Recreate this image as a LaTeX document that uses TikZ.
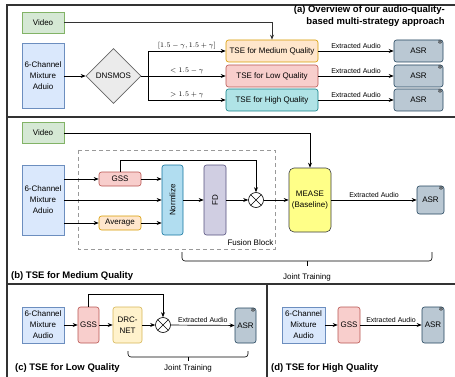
\documentclass[tikz,border=0pt]{standalone}
\usepackage{fontspec}
\setmainfont{Liberation Sans}
\newfontfamily\symfont{DejaVu Sans}
\usetikzlibrary{shapes.geometric, arrows.meta}

\definecolor{vidfill}{HTML}{D5E8D4}
\definecolor{vidline}{HTML}{82B366}
\definecolor{mixfill}{HTML}{DAE8FC}
\definecolor{mixline}{HTML}{6C8EBF}
\definecolor{dnsfill}{HTML}{EBEBEB}
\definecolor{dnsline}{HTML}{666666}
\definecolor{orfill}{HTML}{FFE6CC}
\definecolor{orline}{HTML}{D79B00}
\definecolor{redfill}{HTML}{F8CECC}
\definecolor{redline}{HTML}{B85450}
\definecolor{tealfill}{HTML}{B0E3E6}
\definecolor{tealline}{HTML}{0E8088}
\definecolor{asrfill}{HTML}{BAC8D3}
\definecolor{asrline}{HTML}{23445D}
\definecolor{nrmfill}{HTML}{B1DDF0}
\definecolor{nrmline}{HTML}{10739E}
\definecolor{fdfill}{HTML}{D0CEE2}
\definecolor{fdline}{HTML}{56517E}
\definecolor{measefill}{HTML}{FFFF88}
\definecolor{measeline}{HTML}{36393D}
\definecolor{drcfill}{HTML}{FFF2CC}
\definecolor{drcline}{HTML}{D6B656}
\definecolor{panelline}{HTML}{333333}

\tikzset{
  blk/.style={draw, line width=0.6pt, inner sep=0pt, align=center, font=\fontsize{8}{10.5}\selectfont},
  rblk/.style={blk, rounded corners=2.5pt},
  vid/.style={blk, fill=vidfill, draw=vidline, minimum width=42pt, minimum height=21pt},
  mix/.style={blk, fill=mixfill, draw=mixline, minimum width=42pt, font=\fontsize{8}{11}\selectfont},
  dns/.style={blk, diamond, aspect=1, fill=dnsfill, draw=dnsline, minimum width=55pt, minimum height=55pt},
  tse/.style={rblk, minimum width=92pt, minimum height=22pt},
  asr/.style={rblk, fill=asrfill, draw=asrline, minimum width=49pt, minimum height=22pt,
    label={[snow]north east:{\symfont\char"2744}}},
  snow/.style={anchor=north east, inner sep=0.4pt, font=\fontsize{6}{6}\selectfont, text=black!85},
  gss/.style={rblk, fill=redfill, draw=redline},
  avg/.style={rblk, fill=orfill, draw=orline, minimum width=42pt, minimum height=14pt},
  nrm/.style={rblk, fill=nrmfill, draw=nrmline, rotate=90, minimum width=70pt, minimum height=21pt},
  fdb/.style={rblk, fill=fdfill, draw=fdline, rotate=90, minimum width=70pt, minimum height=22pt},
  mease/.style={blk, rounded corners=5pt, fill=measefill, draw=measeline, minimum width=42pt, minimum height=64pt},
  drc/.style={rblk, fill=drcfill, draw=drcline, minimum width=29pt, minimum height=36pt},
  mult/.style={circle, draw, line width=0.6pt, minimum size=15pt, inner sep=0pt,
    path picture={\draw[line width=0.6pt] (path picture bounding box.north west) -- (path picture bounding box.south east)
      (path picture bounding box.north east) -- (path picture bounding box.south west);}},
  arr/.style={-{Stealth[length=5pt, width=4pt]}, line width=0.7pt},
  cond/.style={above, inner sep=1.5pt, font=\fontsize{7}{8}\selectfont},
  ext/.style={above, inner sep=2pt, font=\fontsize{7}{8}\selectfont},
  txt/.style={inner sep=0pt, font=\fontsize{8}{10}\selectfont},
  ttl/.style={inner sep=0pt, font=\fontsize{9.5}{12.5}\selectfont\bfseries},
  panel/.style={draw=panelline, line width=1.2pt},
  fusion/.style={draw=gray!80, dashed, dash pattern=on 4pt off 3pt, line width=0.6pt},
  jbrace/.style={line width=0.6pt, rounded corners=3pt},
}

\begin{document}
\begin{tikzpicture}[x=1pt, y=-1pt]
	\useasboundingbox (0,0) rectangle (455,377);
	% panel frames
	\draw[panel] (7,377) -- (7,5) -- (455,5);
	\draw[panel] (7,117) -- (455,117);
	\draw[panel] (7,284) -- (455,284);
	\draw[panel] (267,284) -- (267,377);

	% (a) overview
	\node[ttl, anchor=north east, align=right] (ttlA) at (445, 5) {(a) Overview of our audio-quality-\\based multi-strategy approach};
	\node[vid] (vidA) at (43, 22.5) {Video};
	\node[mix, minimum height=65pt] (mixA) at (43, 76) {6-Channel\\Mixture\\Aduio};
	\node[dns] (dnsmos) at (113.5, 76) {DNSMOS};
	\coordinate (split) at (148, 76);
	\node[tse, fill=orfill, draw=orline] (tseM) at (272, 51) {TSE for Medium Quality};
	\node[tse, fill=redfill, draw=redline] (tseL) at (272, 76) {TSE for Low Quality};
	\node[tse, fill=tealfill, draw=tealline] (tseH) at (272, 100) {TSE for High Quality};
	\node[asr] (asrM) at (418.5, 51) {ASR};
	\node[asr] (asrL) at (418.5, 76) {ASR};
	\node[asr] (asrH) at (418.5, 100) {ASR};
	\draw[arr] (mixA) -- (dnsmos);
	\draw[line width=0.7pt] (dnsmos) -- (split);
	\draw[arr] (split) |- node[cond, pos=0.75] {$[1.5-\gamma, 1.5+\gamma]$} (tseM);
	\draw[arr] (split) -- node[cond] {$<1.5-\gamma$} (tseL);
	\draw[arr] (split) |- node[cond, pos=0.75] {$>1.5+\gamma$} (tseH);
	\draw[arr, draw=panelline, line width=1pt] (vidA) -| (tseM);
	\draw[arr] (tseM) -- node[ext] {Extracted Audio} (asrM);
	\draw[arr] (tseL) -- node[ext] {Extracted Audio} (asrL);
	\draw[arr] (tseH) -- node[ext] {Extracted Audio} (asrH);

	% (b) medium quality
	\node[vid] (vidB) at (43, 133) {Video};
	\node[mix, minimum height=70pt] (mixB) at (43, 200) {6-Channel\\Mixture\\Aduio};
	\node[gss, minimum width=42pt, minimum height=14pt] (gssB) at (120, 179) {GSS};
	\node[avg] (avgB) at (120, 223) {Average};
	\node[nrm] (nrmB) at (172.5, 200) {Normlize};
	\node[fdb] (fdB) at (215, 200) {FD};
	\node[mult] (mulB) at (256, 200) {};
	\node[mease] (mease) at (310, 200) {MEASE\\(Baseline)};
	\node[asr, minimum width=27pt, minimum height=28pt] (asrB) at (430.5, 200) {ASR};
	\draw[fusion] (78,150) rectangle (275,249);
	\node[txt, anchor=south east] (fusB) at (273.5, 246) {Fusion Block};
	\coordinate (gtopB) at (120, 160);
	\draw[arr] (mixB.east |- gssB) -- (gssB);
	\draw[arr] (mixB) -- (nrmB);
	\draw[arr] (mixB.east |- avgB) -- (avgB);
	\draw[arr] (gssB) -- (nrmB.north |- gssB);
	\draw[arr] (avgB) -- (nrmB.north |- avgB);
	\draw[arr] (nrmB) -- (fdB);
	\draw[arr] (fdB) -- (mulB);
	\draw[arr] (mulB) -- (mease);
	\draw[arr] (gssB) -- (gtopB) -| (mulB);
	\draw[arr] (vidB) -| (mease);
	\draw[arr] (mease) -- node[ext] {Extracted Audio} (asrB);
	\draw[jbrace] (182,252) |- (432,261) -- (432,252);
	\draw[line width=0.6pt] (307,261) -- (307,266);
	\node[txt] (jtB) at (307, 277) {Joint Training};
	\node[ttl, anchor=west] (ttlB) at (11, 276.5) {(b) TSE for Medium Quality};

	% (c) low quality
	\node[mix, minimum height=36pt] (mixC) at (43, 325) {6-Channel\\Mixture\\Audio};
	\node[gss, minimum width=21pt, minimum height=36pt] (gssC) at (88.5, 325) {GSS};
	\node[drc] (drcC) at (127.5, 325) {DRC-\\NET};
	\node[mult] (mulC) at (163, 325) {};
	\node[asr, minimum width=21pt, minimum height=35pt] (asrC) at (245.5, 325.5) {ASR};
	\coordinate (gtopC) at (88.5, 294);
	\draw[arr] (mixC) -- (gssC);
	\draw[arr] (gssC) -- (drcC);
	\draw[arr] (drcC) -- (mulC);
	\draw[arr] (gssC) -- (gtopC) -| (mulC);
	\draw[arr] (mulC) -- node[ext] {Extracted Audio} (asrC);
	\draw[jbrace] (128,351) |- (248,357) -- (248,351);
	\draw[line width=0.6pt] (188,357) -- (188,361);
	\node[txt] (jtC) at (188, 368) {Joint Training};
	\node[ttl, anchor=west] (ttlC) at (15, 368) {(c) TSE for Low Quality};

	% (d) high quality
	\node[mix, minimum width=43pt, minimum height=36pt] (mixD) at (303.5, 325) {6-Channel\\Mixture\\Audio};
	\node[gss, minimum width=22pt, minimum height=36pt] (gssD) at (349, 325) {GSS};
	\node[asr, minimum width=22pt, minimum height=36pt] (asrD) at (433, 325) {ASR};
	\draw[arr] (mixD) -- (gssD);
	\draw[arr] (gssD) -- node[ext] {Extracted Audio} (asrD);
	\node[ttl, anchor=west] (ttlD) at (271, 368) {(d) TSE for High Quality};
\end{tikzpicture}
\end{document}
